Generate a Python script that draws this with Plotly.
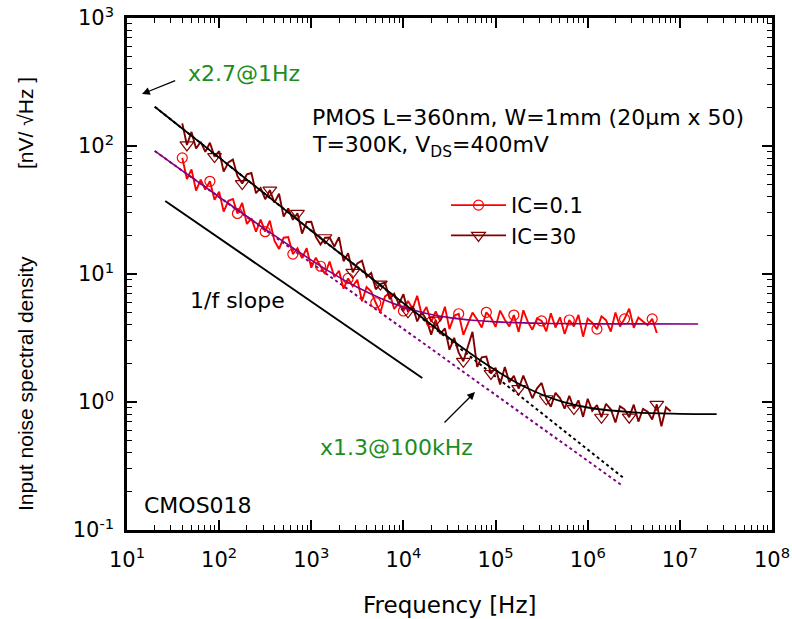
import plotly.graph_objects as go

# ---------------- data ----------------
freq = [39.8, 44.7, 50.1, 56.2, 63.1, 70.8, 79.4, 89.1,
        100, 112, 126, 141, 158, 178, 200, 224, 251, 282, 316, 355, 398, 447, 501, 562, 631, 708, 794, 891,
        1000, 1120, 1260, 1410, 1580, 1780, 2000, 2240, 2510, 2820, 3160, 3550, 3980, 4470, 5010, 5620, 6310, 7080, 7940, 8910,
        1.00e4, 1.12e4, 1.26e4, 1.41e4, 1.58e4, 1.78e4, 2.00e4, 2.24e4, 2.51e4, 2.82e4, 3.16e4, 3.55e4, 3.98e4, 4.47e4, 5.01e4, 5.62e4, 6.31e4, 7.08e4, 7.94e4, 8.91e4,
        1.00e5, 1.12e5, 1.26e5, 1.41e5, 1.58e5, 1.78e5, 2.00e5, 2.24e5, 2.51e5, 2.82e5, 3.16e5, 3.55e5, 3.98e5, 4.47e5, 5.01e5, 5.62e5, 6.31e5, 7.08e5, 7.94e5, 8.91e5,
        1.00e6, 1.12e6, 1.26e6, 1.41e6, 1.58e6, 1.78e6, 2.00e6, 2.24e6, 2.51e6, 2.82e6, 3.16e6, 3.55e6, 3.98e6, 4.47e6, 5.01e6, 5.62e6, 6.31e6, 7.08e6, 7.94e6]

ic01 = [80.8, 55.2, 65.6, 44.8, 54.5, 45.7, 53.0, 38.0, 43.9, 30.7,
        37.3, 38.6, 29.7, 35.9, 24.6, 27.2, 21.4, 26.6, 21.4, 26.1,
        18.2, 15.7, 19.2, 19.4, 14.3, 15.9, 13.3, 15.9, 11.2, 13.4,
        11.5, 10.0, 12.5, 9.48, 10.6, 7.68, 9.23, 8.03, 9.03, 6.13,
        7.92, 7.29, 5.96, 5.01, 6.68, 7.09, 5.33, 5.94, 5.14, 6.16,
        5.36, 6.76, 4.79, 5.52, 4.22, 5.10, 4.27, 5.55, 3.71, 4.72,
        4.89, 3.35, 4.09, 4.99, 4.42, 3.82, 5.02, 4.56, 3.86, 5.18,
        4.39, 3.90, 4.78, 3.53, 5.21, 4.22, 3.67, 4.50, 4.30, 3.57,
        4.93, 3.82, 4.59, 3.40, 4.37, 3.90, 4.79, 3.24, 4.47, 4.17,
        3.71, 4.67, 4.36, 3.55, 5.01, 3.89, 4.46, 5.36, 3.80, 4.57,
        4.26, 3.98, 4.46, 3.46]

ic30 = [150.2, 101.9, 128.9, 95.7, 107.8, 90.0, 106.1, 82.6, 91.0, 63.1,
        74.4, 78.3, 58.1, 50.9, 60.0, 61.5, 42.8, 47.0, 38.4, 45.2,
        36.1, 42.4, 28.1, 32.5, 26.5, 29.8, 20.7, 25.5, 25.6, 19.5,
        17.0, 19.2, 19.3, 16.4, 19.4, 12.6, 14.5, 10.3, 12.1, 12.7,
        9.48, 10.2, 7.59, 8.34, 8.57, 6.37, 7.01, 5.85, 6.96, 5.07,
        5.59, 4.26, 5.03, 4.40, 3.36, 4.36, 3.40, 3.76, 2.56, 3.17,
        2.43, 2.08, 2.71, 3.53, 1.88, 2.23, 2.26, 1.67, 1.85, 1.37,
        1.88, 1.43, 1.60, 1.27, 1.61, 1.31, 1.07, 1.28, 1.41, 1.06,
        0.919, 1.18, 1.07, 0.886, 1.12, 0.889, 1.03, 0.765, 1.06, 0.854,
        0.947, 0.760, 0.969, 0.877, 0.691, 0.925, 0.877, 0.761, 0.953, 0.703,
        0.882, 0.839, 0.729, 0.958, 0.646, 0.911, 0.848]

# fitted model curves
fit01_f = [20, 31.6, 100, 316, 1000, 1778, 3162, 5623, 1.0e4, 1.778e4, 3.162e4, 5.623e4, 1.0e5, 3.162e5, 1.0e6, 3.162e6, 1.58e7]
fit01_v = [91.5, 72.3, 40.1, 22.4, 12.85, 9.93, 7.87, 6.46, 5.51, 4.92, 4.56, 4.35, 4.23, 4.12, 4.085, 4.075, 4.07]
fit30_f = [20, 31.6, 100, 316, 1000, 3162, 1.0e4, 1.778e4, 3.162e4, 5.623e4, 1.0e5, 1.778e5, 3.162e5, 5.623e5, 1.0e6, 3.162e6, 1.0e7, 2.51e7]
fit30_v = [202.8, 156.3, 81.1, 42.1, 21.8, 11.33, 5.92, 4.30, 3.15, 2.33, 1.77, 1.39, 1.145, 0.994, 0.906, 0.830, 0.808, 0.803]

# 1/f-only asymptotes (dotted)
flick01_f = [20, 2.4e6]
flick01_v = [91.4, 0.221]
flick30_f = [20, 2.4e6]
flick30_v = [202.8, 0.258]

# reference 1/f slope segment
slope_f = [26, 1.6e4]
slope_v = [37.2, 1.54]

xtick_vals = [1e1, 1e2, 1e3, 1e4, 1e5, 1e6, 1e7, 1e8]
xtick_text = ["10<sup>1</sup>", "10<sup>2</sup>", "10<sup>3</sup>", "10<sup>4</sup>",
              "10<sup>5</sup>", "10<sup>6</sup>", "10<sup>7</sup>", "10<sup>8</sup>"]
ytick_vals = [1e-1, 1e0, 1e1, 1e2, 1e3]
ytick_text = ["10<sup>-1</sup>", "10<sup>0</sup>", "10<sup>1</sup>", "10<sup>2</sup>", "10<sup>3</sup>"]

MARK_STEP = 6

# ---------------- styling ----------------
RED = "#ff0000"
DARK = "#800000"
PURPLE = "#800080"
GREEN = "#1e8c1e"
FONT = "DejaVu Sans"

fig = go.Figure()

# dotted 1/f asymptotes (under everything)
fig.add_trace(go.Scatter(x=flick30_f, y=flick30_v, mode="lines",
                         line=dict(color="black", width=2, dash="dot"), showlegend=False, hoverinfo="skip"))
fig.add_trace(go.Scatter(x=flick01_f, y=flick01_v, mode="lines",
                         line=dict(color=PURPLE, width=2, dash="dot"), showlegend=False, hoverinfo="skip"))

# slope guide
fig.add_trace(go.Scatter(x=slope_f, y=slope_v, mode="lines",
                         line=dict(color="black", width=2), showlegend=False, hoverinfo="skip"))

# measured spectra
n01 = len(ic01)
fig.add_trace(go.Scatter(x=freq[:n01], y=ic01, mode="lines",
                         line=dict(color=RED, width=1.9), showlegend=False))
fig.add_trace(go.Scatter(x=freq, y=ic30, mode="lines",
                         line=dict(color=DARK, width=1.9), showlegend=False))

# sparse markers
fig.add_trace(go.Scatter(x=freq[:n01][::MARK_STEP], y=ic01[::MARK_STEP], mode="markers",
                         marker=dict(symbol="circle-open", size=10, color=RED, line=dict(width=1.2)),
                         showlegend=False))
fig.add_trace(go.Scatter(x=freq[1::MARK_STEP], y=ic30[1::MARK_STEP], mode="markers",
                         marker=dict(symbol="triangle-down-open", size=12, color=DARK, line=dict(width=1.2)),
                         showlegend=False))

# fitted curves on top
fig.add_trace(go.Scatter(x=fit01_f, y=fit01_v, mode="lines",
                         line=dict(color=PURPLE, width=1.6, shape="spline"), showlegend=False))
fig.add_trace(go.Scatter(x=fit30_f, y=fit30_v, mode="lines",
                         line=dict(color="black", width=1.8, shape="spline"), showlegend=False))

# legend entries
fig.add_trace(go.Scatter(x=[None], y=[None], mode="lines+markers", name="IC=0.1",
                         line=dict(color=RED, width=1.8),
                         marker=dict(symbol="circle-open", size=10, color=RED, line=dict(width=1.2))))
fig.add_trace(go.Scatter(x=[None], y=[None], mode="lines+markers", name="IC=30",
                         line=dict(color=DARK, width=1.8),
                         marker=dict(symbol="triangle-down-open", size=12, color=DARK, line=dict(width=1.2))))

L, R, T, B = 127, 20, 18, 89
W, H = 792, 619
PW, PH = W - L - R, H - T - B


def px(X):
    return (X - L) / PW


def py(Y):
    return (H - B - Y) / PH


axis_common = dict(type="log", showline=True, linewidth=2.5, linecolor="black", mirror="ticks",
                   ticks="inside", ticklen=10, tickwidth=1.5, tickcolor="black",
                   showgrid=False, zeroline=False, tickmode="array", automargin=False,
                   tickfont=dict(family=FONT, size=21, color="black"),
                   minor=dict(ticks="inside", ticklen=5, tickwidth=1.2, tickcolor="black",
                              dtick="D1", showgrid=False))

fig.update_layout(
    width=W, height=H,
    margin=dict(l=L, r=R, t=T, b=B, autoexpand=False),
    paper_bgcolor="white", plot_bgcolor="white",
    xaxis=dict(range=[1, 8], tickvals=xtick_vals, ticktext=xtick_text, ticklabelstandoff=9, **axis_common),
    yaxis=dict(range=[-1, 3], tickvals=ytick_vals, ticktext=ytick_text, ticklabelstandoff=6, **axis_common),
    legend=dict(x=px(446), y=py(185), xanchor="left", yanchor="top",
                font=dict(family=FONT, size=21, color="black"), bgcolor="rgba(0,0,0,0)",
                itemwidth=55, tracegroupgap=0),
    showlegend=True,
)

txt = dict(family=FONT, size=22, color="black")
green = dict(family=FONT, size=22, color=GREEN)
ann = [
    dict(x=px(310), y=py(117), text="PMOS L=360nm, W=1mm (20µm x 50)", font=txt),
    dict(x=px(310), y=py(146), text="T=300K, V<sub>DS</sub>=400mV", font=txt),
    dict(x=px(186), y=py(73), text="x2.7@1Hz", font=green),
    dict(x=px(188), y=py(300), text="1/f slope", font=txt),
    dict(x=px(318), y=py(447), text="x1.3@100kHz", font=green),
    dict(x=px(142), y=py(505), text="CMOS018", font=txt),
]
for a in ann:
    fig.add_annotation(xref="paper", yref="paper", xanchor="left", yanchor="middle",
                       showarrow=False, **a)

# arrows
fig.add_annotation(xref="paper", yref="paper", x=px(142), y=py(94), ax=34.7, ay=-14,
                   text="", showarrow=True, arrowhead=2, arrowsize=1.2, arrowwidth=1.3, arrowcolor="black")
fig.add_annotation(xref="paper", yref="paper", x=px(475), y=py(392), ax=-32, ay=32,
                   text="", showarrow=True, arrowhead=2, arrowsize=1.2, arrowwidth=1.3, arrowcolor="black")

# axis titles
fig.add_annotation(xref="paper", yref="paper", x=0.5, y=py(605), text="Frequency [Hz]",
                   showarrow=False, xanchor="center", yanchor="middle",
                   font=dict(family=FONT, size=23, color="black"))
fig.add_annotation(xref="paper", yref="paper", x=px(25), y=py(384), text="Input noise spectral density",
                   showarrow=False, textangle=-90, xanchor="center", yanchor="middle",
                   font=dict(family="Liberation Sans", size=21, color="black"))
fig.add_annotation(xref="paper", yref="paper", x=px(25), y=py(123), text="[nV/ √Hz ]",
                   showarrow=False, textangle=-90, xanchor="center", yanchor="middle",
                   font=dict(family="Liberation Sans", size=21, color="black"))

fig.write_html("out.html")
